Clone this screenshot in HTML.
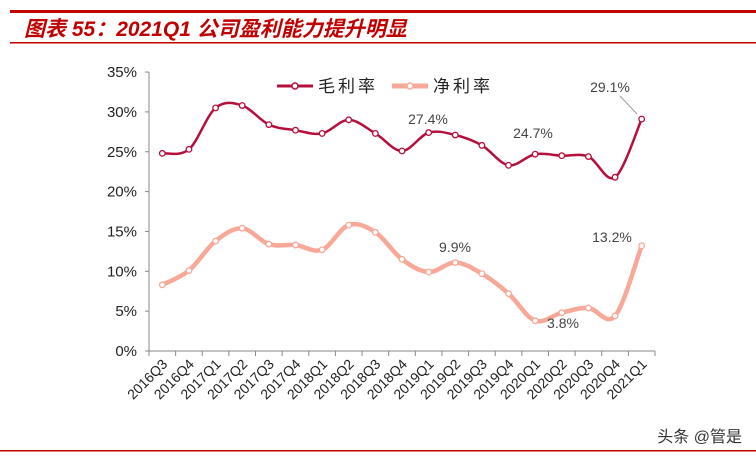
<!DOCTYPE html>
<html><head><meta charset="utf-8"><style>
body{margin:0;background:#fff;width:756px;height:457px;overflow:hidden;font-family:"Liberation Sans","Noto Sans CJK SC",sans-serif}
</style></head><body>
<svg id="s" width="756" height="457" xmlns="http://www.w3.org/2000/svg" font-family="Liberation Sans, Noto Sans CJK SC, sans-serif">
<rect x="10" y="10" width="746" height="3" fill="#C00000"/>
<rect x="10" y="42" width="746" height="1.5" fill="#C00000"/>
<text x="24" y="36" font-size="21" font-weight="bold" font-style="italic" fill="#C00000">图表 55：2021Q1 公司盈利能力提升明显</text>
<rect x="0" y="450" width="756" height="1.5" fill="#C00000"/>
<text x="742" y="442" font-size="16" fill="#333" text-anchor="end">头条 @管是</text>
<g id="ax" stroke="#888" stroke-width="1"></g>
<g id="lb" font-size="15" fill="#222"></g>
<g id="ln"></g>
<g font-size="14" fill="#444">
<text x="428" y="124" text-anchor="middle">27.4%</text>
<text x="533" y="138" text-anchor="middle">24.7%</text>
<text x="610" y="92" text-anchor="middle">29.1%</text>
<text x="455" y="252" text-anchor="middle">9.9%</text>
<text x="563" y="328" text-anchor="middle">3.8%</text>
<text x="612" y="242" text-anchor="middle">13.2%</text>
</g>
<line x1="620" y1="96" x2="637" y2="114" stroke="#999" stroke-width="1"/>
<g font-size="17" fill="#222">
<line x1="277" y1="86" x2="313" y2="86" stroke="#B5103C" stroke-width="3"/>
<circle cx="295" cy="86" r="3" fill="#fff" stroke="#B5103C" stroke-width="1.5"/>
<text x="318" y="92" letter-spacing="3">毛利率</text>
<line x1="392" y1="86" x2="428" y2="86" stroke="#F7A898" stroke-width="5"/>
<circle cx="410" cy="86" r="3" fill="#fff" stroke="#F7A898" stroke-width="1.5"/>
<text x="433" y="92" letter-spacing="3">净利率</text>
</g>
</svg>
<script>
var ns="http://www.w3.org/2000/svg";
function el(p,t,a,txt){var e=document.createElementNS(ns,t);for(var k in a)e.setAttribute(k,a[k]);if(txt)e.textContent=txt;document.getElementById(p).appendChild(e);}
var X0=149,X1=655,Y0=351,sc=7.97,n=19,w=(X1-X0)/n;
el("ax","line",{x1:X0,y1:72,x2:X0,y2:Y0});
el("ax","line",{x1:X0,y1:Y0,x2:X1,y2:Y0});
for(var i=0;i<=7;i++){var y=Y0-i*5*sc;el("ax","line",{x1:X0-4,y1:y,x2:X0,y2:y});el("lb","text",{x:X0-12,y:y+5,"text-anchor":"end"},(i*5)+"%");}
var cats=["2016Q3","2016Q4","2017Q1","2017Q2","2017Q3","2017Q4","2018Q1","2018Q2","2018Q3","2018Q4","2019Q1","2019Q2","2019Q3","2019Q4","2020Q1","2020Q2","2020Q3","2020Q4","2021Q1"];
for(var i=0;i<=n;i++){var x=X0+i*w;el("ax","line",{x1:x,y1:Y0,x2:x,y2:Y0+5});}
for(var i=0;i<n;i++){var x=X0+(i+0.5)*w+6,y=Y0+14;el("lb","text",{x:x,y:y,"text-anchor":"end",transform:"rotate(-45 "+x+" "+y+")","font-size":"14"},cats[i]);}
function path(v){var p=v.map(function(d,i){return[X0+(i+0.5)*w,Y0-d*sc]});var s="M"+p[0];for(var i=0;i<p.length-1;i++){var a=p[i-1]||p[i],b=p[i],c=p[i+1],d=p[i+2]||c;s+=" C"+(b[0]+(c[0]-a[0])/6)+","+(b[1]+(c[1]-a[1])/6)+" "+(c[0]-(d[0]-b[0])/6)+","+(c[1]-(d[1]-b[1])/6)+" "+c[0]+","+c[1];}return[s,p];}
function ser(v,col,sw){var r=path(v);el("ln","path",{d:r[0],fill:"none",stroke:col,"stroke-width":sw});r[1].forEach(function(q){el("ln","circle",{cx:q[0],cy:q[1],r:2.8,fill:"#fff",stroke:col,"stroke-width":1.3});});}
ser([8.3,10.1,13.8,15.4,13.4,13.3,12.7,15.8,14.9,11.5,9.9,11.1,9.7,7.2,3.8,4.8,5.4,4.4,13.2],"#F7A898",4.5);
ser([24.8,25.3,30.5,30.8,28.4,27.7,27.3,29.0,27.3,25.1,27.4,27.1,25.8,23.3,24.7,24.5,24.4,21.8,29.1],"#B5103C",2.5);
</script>
</body></html>
